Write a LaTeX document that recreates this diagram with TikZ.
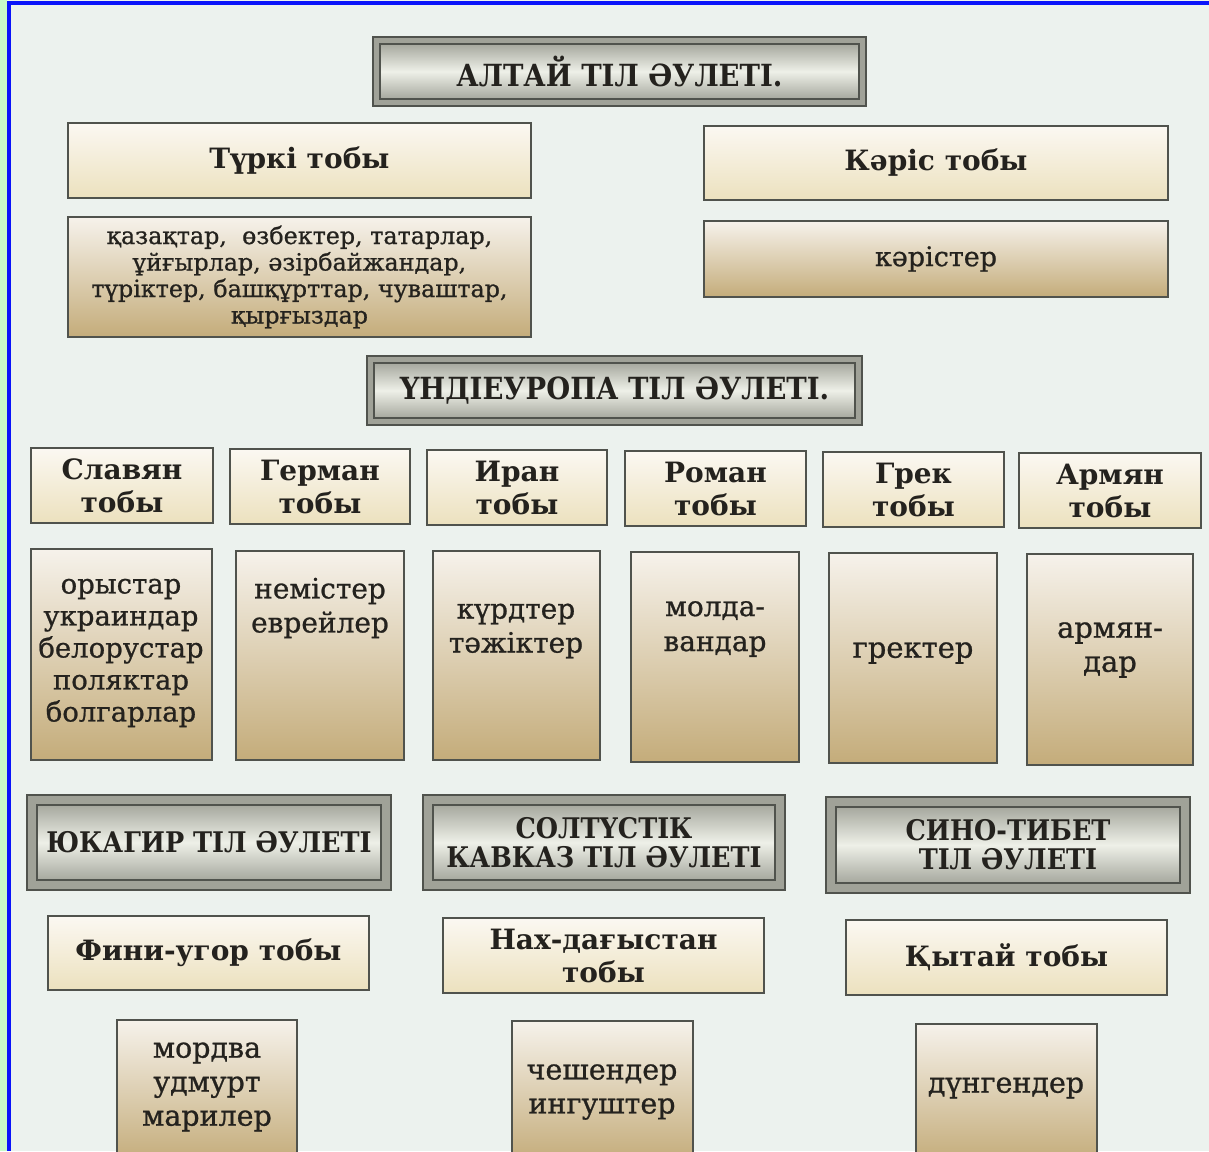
\documentclass[tikz,border=0pt]{standalone}
\usepackage{fontspec}
\setmainfont{DejaVu Serif}
\newfontfamily\bodyfont[FakeBold=0.8]{DejaVu Serif}
\newfontfamily\famfont{DejaVu Serif Condensed}
\definecolor{bgc}{RGB}{236,242,238}
\definecolor{bordc}{RGB}{80,83,77}
\definecolor{grpT}{RGB}{251,248,242}
\definecolor{grpB}{RGB}{236,225,190}
\definecolor{pplT}{RGB}{246,242,235}
\definecolor{pplB}{RGB}{196,172,122}
\definecolor{famband}{RGB}{160,162,152}
\definecolor{famT}{RGB}{166,168,158}
\definecolor{famM}{RGB}{238,240,232}
\definecolor{txtc}{RGB}{36,34,30}
\definecolor{frameblue}{RGB}{10,20,250}
\definecolor{framegreen}{RGB}{200,250,200}
\tikzset{
  grp/.style={draw=bordc, line width=2.6pt, top color=grpT, bottom color=grpB,
    inner sep=0pt, outer sep=0pt, align=center, text=txtc,
    font=\bfseries\fontsize{28}{33}\selectfont},
  ppl/.style={draw=bordc, line width=2.6pt, top color=pplT, bottom color=pplB,
    inner sep=0pt, outer sep=0pt, align=center, text=txtc,
    font=\bodyfont\fontsize{28}{32}\selectfont},
  famout/.style={draw=bordc, line width=2pt, fill=famband, inner sep=0pt, outer sep=0pt},
  famin/.style={draw=bordc, line width=1.5pt, top color=famT, bottom color=famT,
    middle color=famM, inner sep=0pt, outer sep=0pt, align=center, text=txtc},
  lbl/.style={inner sep=0pt, align=center, text=txtc},
}
\newcommand\bx[7]{%
  \pgfmathsetmacro\cx{(#2+#4)/2}\pgfmathsetmacro\cy{(#3+#5)/2}%
  \pgfmathsetmacro\ww{#4-#2}\pgfmathsetmacro\hh{#5-#3}%
  \node[#6, minimum width=\ww pt, minimum height=\hh pt] (#1) at (\cx,\cy) {#7};}
\newcommand\familybox[8]{% name x1 y1 x2 y2 inset fontsize text
  \pgfmathsetmacro\cx{(#2+#4)/2}\pgfmathsetmacro\cy{(#3+#5)/2}%
  \pgfmathsetmacro\ww{#4-#2}\pgfmathsetmacro\hh{#5-#3}%
  \pgfmathsetmacro\wi{#4-#2-2*#6}\pgfmathsetmacro\hi{#5-#3-2*#6}%
  \node[famout, minimum width=\ww pt, minimum height=\hh pt] (#1) at (\cx,\cy) {};
  \node[famin, minimum width=\wi pt, minimum height=\hi pt,
    font=\famfont\bfseries\fontsize{#7}{29}\selectfont] (#1-in) at (#1.center) {#8};}
\begin{document}
\begin{tikzpicture}[x=1pt,y=-1pt]
\useasboundingbox (0,0) rectangle (1209,1151);
\fill[bgc] (0,0) rectangle (1209,1151);
\fill[framegreen] (0,0) rectangle (7,1151);
\fill[frameblue] (7,1) rectangle (11,1151);
\fill[frameblue] (7,1) rectangle (1209,5);

% Altai family
\familybox{altai}{373}{37}{866}{106}{7}{30.5}{АЛТАЙ ТІЛ ӘУЛЕТІ.}
\bx{turk}{68}{123}{531}{198}{grp}{Түркі тобы}
\bx{turkp}{68}{217}{531}{337}{ppl, font=\bodyfont\fontsize{23.8}{26.5}\selectfont}{қазақтар, \ өзбектер, татарлар,\\ ұйғырлар, әзірбайжандар,\\ түріктер, башқұрттар, чуваштар,\\ қырғыздар}
\bx{kor}{704}{126}{1168}{200}{grp}{Кәріс тобы}
\bx{korp}{704}{221}{1168}{297}{ppl, font=\bodyfont\fontsize{27}{30}\selectfont}{кәрістер}

% Indo-European family
\familybox{indo}{367}{356}{862}{425}{7}{30.5}{ҮНДІЕУРОПА ТІЛ ӘУЛЕТІ.}
\bx{slav}{31}{448}{213}{523}{grp}{Славян\\тобы}
\bx{germ}{230}{449}{410}{524}{grp}{Герман\\тобы}
\bx{iran}{427}{450}{607}{525}{grp}{Иран\\тобы}
\bx{rom}{625}{451}{806}{526}{grp}{Роман\\тобы}
\bx{grek}{823}{452}{1004}{527}{grp}{Грек\\тобы}
\bx{arm}{1019}{453}{1201}{528}{grp}{Армян\\тобы}

\bx{slavp}{31}{549}{212}{760}{ppl}{}
\bx{germp}{236}{551}{404}{760}{ppl}{}
\bx{iranp}{433}{551}{600}{760}{ppl}{}
\bx{romp}{631}{552}{799}{762}{ppl}{}
\bx{grekp}{829}{553}{997}{763}{ppl}{}
\bx{armp}{1027}{554}{1193}{765}{ppl}{}
\node[lbl, font=\bodyfont\fontsize{27.5}{32}\selectfont] (slavt) at (121,653) {орыстар\\украиндар\\белорустар\\поляктар\\болгарлар};
\node[lbl, font=\bodyfont\fontsize{28}{34}\selectfont] (germt) at (320,608) {немістер\\еврейлер};
\node[lbl, font=\bodyfont\fontsize{28}{34}\selectfont] (irant) at (516,631) {күрдтер\\тәжіктер};
\node[lbl, font=\bodyfont\fontsize{28}{35}\selectfont] (romt) at (715,629) {молда-\\вандар};
\node[lbl, font=\bodyfont\fontsize{29}{34}\selectfont] (grekt) at (913,653) {гректер};
\node[lbl, font=\bodyfont\fontsize{29}{34}\selectfont] (armt) at (1110,650) {армян-\\дар};

% Other families
\familybox{yuk}{27}{795}{391}{890}{10}{28.4}{ЮКАГИР ТІЛ ӘУЛЕТІ}
\familybox{kavk}{423}{795}{785}{890}{10}{28.4}{СОЛТҮСТІК\\КАВКАЗ ТІЛ ӘУЛЕТІ}
\familybox{sino}{826}{797}{1190}{893}{10}{28.4}{СИНО-ТИБЕТ\\ТІЛ ӘУЛЕТІ}

\bx{fin}{48}{916}{369}{990}{grp}{Фини-угор тобы}
\bx{nakh}{443}{918}{764}{993}{grp}{Нах-дағыстан\\тобы}
\bx{kyt}{846}{920}{1167}{995}{grp}{Қытай тобы}

\bx{finp}{117}{1020}{297}{1162}{ppl}{}
\bx{nakhp}{512}{1021}{693}{1162}{ppl}{}
\bx{kytp}{916}{1024}{1097}{1162}{ppl}{}
\node[lbl, font=\bodyfont\fontsize{28.5}{34}\selectfont] (fint) at (207,1087) {мордва\\удмурт\\марилер};
\node[lbl, font=\bodyfont\fontsize{28.5}{34}\selectfont] (nakht) at (602,1092) {чешендер\\ингуштер};
\node[lbl, font=\bodyfont\fontsize{28.5}{34}\selectfont] (kytt) at (1006,1088) {дүнгендер};
\end{tikzpicture}
\end{document}
